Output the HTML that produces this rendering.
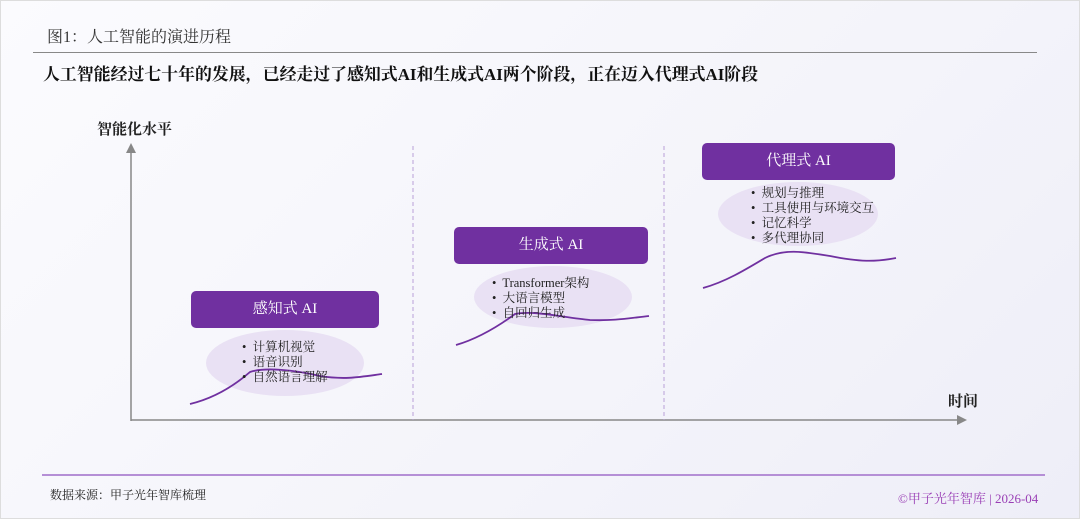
<!DOCTYPE html>
<html><head><meta charset="utf-8"><style>
body{margin:0;width:1080px;height:519px;overflow:hidden;background:linear-gradient(135deg,#fbfbfe,#f4f4fa 60%,#eeeef8);font-family:"Liberation Serif","Noto Serif CJK SC",serif;position:relative}
.t{position:absolute;white-space:nowrap}
</style></head><body>
<div style="position:absolute;left:0;top:0;width:1078px;height:517px;border:1px solid #ddd"></div>
<div class="t" style="left:47px;top:24px;font-size:16px;color:#333">图1：人工智能的演进历程</div>
<div style="position:absolute;left:33px;top:52px;width:1004px;height:1px;background:#888"></div>
<div class="t" style="left:43px;top:61px;font-size:16.9px;font-weight:bold;color:#111">人工智能经过七十年的发展，已经走过了感知式AI和生成式AI两个阶段，正在迈入代理式AI阶段</div>
<div class="t" style="left:97px;top:118px;font-size:15px;font-weight:bold;color:#222">智能化水平</div>
<div class="t" style="left:948px;top:390px;font-size:15px;font-weight:bold;color:#222">时间</div>
<svg width="1080" height="519" style="position:absolute;left:0;top:0">
<line x1="131" y1="152" x2="131" y2="421" stroke="#888" stroke-width="1.5"/>
<polygon points="126,153 136,153 131,143" fill="#888"/>
<line x1="131" y1="420" x2="958" y2="420" stroke="#888" stroke-width="1.5"/>
<polygon points="957,415 957,425 967,420" fill="#888"/>
<line x1="413" y1="146" x2="413" y2="420" stroke="#b9a0d8" stroke-dasharray="4,3"/>
<line x1="664" y1="146" x2="664" y2="420" stroke="#b9a0d8" stroke-dasharray="4,3"/>
<ellipse cx="285" cy="363" rx="79" ry="33" fill="#e9e1f4"/>
<ellipse cx="553" cy="297" rx="79" ry="31" fill="#e9e1f4"/>
<ellipse cx="798" cy="214" rx="80" ry="32" fill="#e9e1f4"/>
<path d="M190,404 C215,398 235,385 250,372 C265,367 295,370 320,376 C345,380 360,377 382,374" fill="none" stroke="#7030a0" stroke-width="1.8"/>
<path d="M456,345 C480,338 500,325 515,314 C535,310 565,318 590,320 C615,321 630,318 649,316" fill="none" stroke="#7030a0" stroke-width="1.8"/>
<path d="M703,288 C725,282 745,270 765,258 C785,248 805,252 830,256 C860,262 875,262 896,258" fill="none" stroke="#7030a0" stroke-width="1.8"/>
<line x1="42" y1="475" x2="1045" y2="475" stroke="#b58fd6" stroke-width="2"/>
</svg>
<div style="position:absolute;left:191px;top:291px;width:188px;height:37px;background:#7030a0;border-radius:5px;color:#fff;font-size:15px;text-align:center;line-height:37px">感知式 AI</div>
<div style="position:absolute;left:454px;top:227px;width:194px;height:37px;background:#7030a0;border-radius:5px;color:#fff;font-size:15px;text-align:center;line-height:37px">生成式 AI</div>
<div style="position:absolute;left:702px;top:143px;width:193px;height:37px;background:#7030a0;border-radius:5px;color:#fff;font-size:15px;text-align:center;line-height:37px">代理式 AI</div>
<div class="t" style="left:242px;top:340px;font-size:12.5px;line-height:15px;color:#222">•&nbsp; 计算机视觉<br>•&nbsp; 语音识别<br>•&nbsp; 自然语言理解</div>
<div class="t" style="left:492px;top:276px;font-size:12.5px;line-height:15px;color:#222">•&nbsp; Transformer架构<br>•&nbsp; 大语言模型<br>•&nbsp; 自回归生成</div>
<div class="t" style="left:751px;top:186px;font-size:12.5px;line-height:15px;color:#222">•&nbsp; 规划与推理<br>•&nbsp; 工具使用与环境交互<br>•&nbsp; 记忆科学<br>•&nbsp; 多代理协同</div>
<div class="t" style="left:50px;top:486px;font-size:12px;color:#222">数据来源：甲子光年智库梳理</div>
<div class="t" style="left:898px;top:488px;font-size:13px;color:#9a3fb5">©甲子光年智库 | 2026-04</div>
</body></html>
